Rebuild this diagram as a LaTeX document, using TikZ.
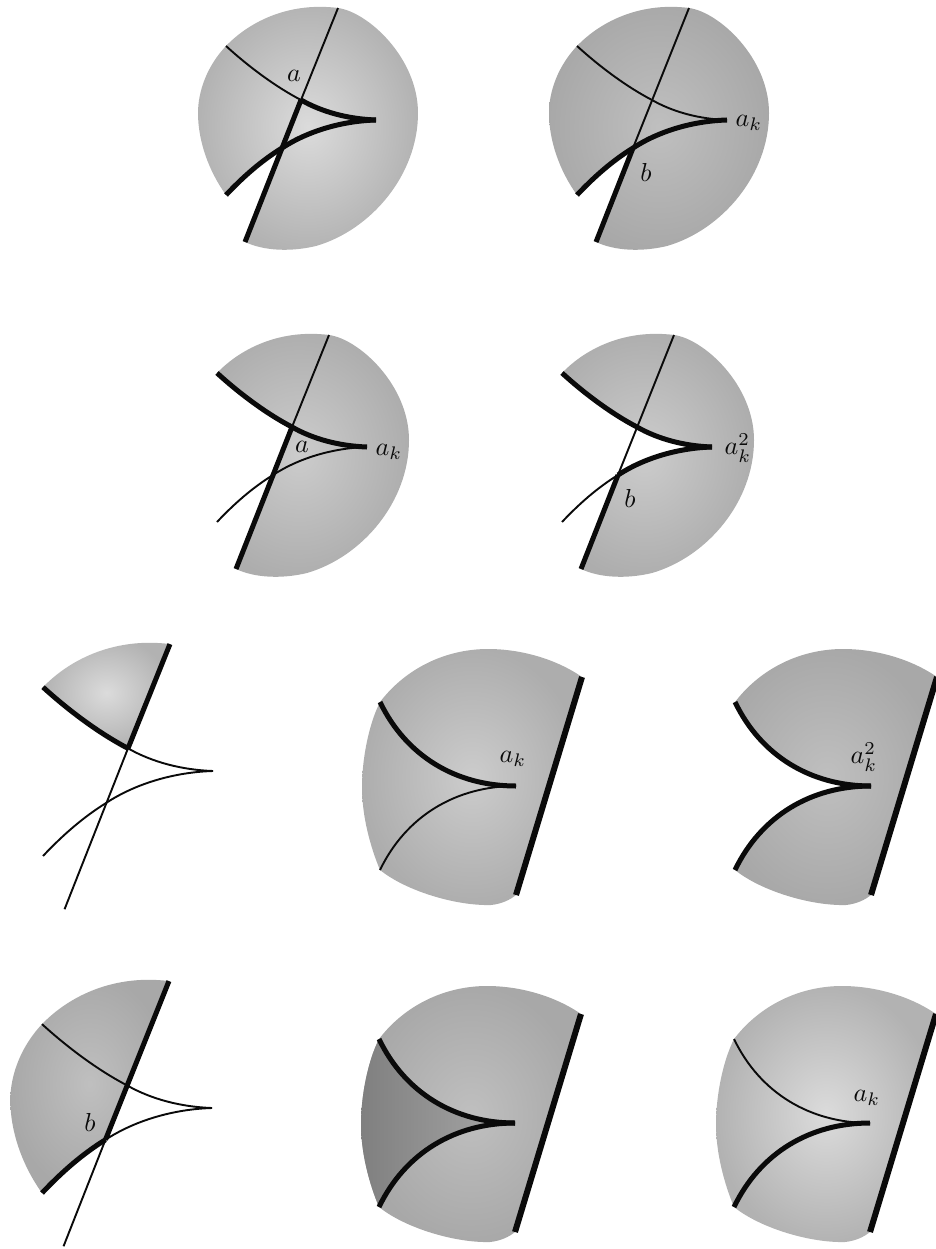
\documentclass[tikz,border=0pt]{standalone}
\definecolor{ink}{RGB}{10,10,10}

% --- Round panels: boundary and cusp pieces, drawn relative to the tip ---
\newcommand{\roundpoints}{
    \coordinate (tip) at (0,0);
    \coordinate (linetop) at (-38,-112);
    \coordinate (linebot) at (-131,122);
    \coordinate (crossup) at (-75,-20);
    \coordinate (crosslow) at (-94,28);
    \coordinate (upend) at (-150,-74);
    \coordinate (lowend) at (-150,75);
}
\newcommand{\uptip}{.. controls (-28,-1) and (-54,-8) .. (crossup)}
\newcommand{\upouter}{.. controls (-100,-33) and (-127,-53) .. (upend)}
\newcommand{\lowtip}{.. controls (-34,1) and (-68,11) .. (crosslow)}
\newcommand{\lowouter}{.. controls (-115,41) and (-133,57) .. (lowend)}
\newcommand{\lowback}{.. controls (-68,11) and (-34,1) .. (tip)}
\newcommand{\arcright}{.. controls (-8,-108) and (42,-62) .. (42,-7)
    .. controls (42,55) and (-5,110) .. (-60,126)
    .. controls (-85,132) and (-112,131) .. (linebot)}
\newcommand{\arcleft}{.. controls (-168,50) and (-178,20) .. (-178,-7)
    .. controls (-178,-30) and (-168,-55) .. (upend)}
\newcommand{\arctop}{.. controls (-125,-100) and (-85,-118) .. (linetop)}
\newcommand{\rounddisc}{(linetop) \arcright -- (lowend) \arcleft \arctop -- cycle}

% --- Wide panels ---
\newcommand{\widepoints}{
    \coordinate (tip) at (0,0);
    \coordinate (linetop) at (66,-109);
    \coordinate (linebot) at (0,109);
    \coordinate (upend) at (-136,-84);
    \coordinate (lowend) at (-136,84);
}
\newcommand{\upcurve}{.. controls (-60,0) and (-110,-30) .. (upend)}
\newcommand{\lowcurve}{.. controls (-60,0) and (-110,30) .. (lowend)}
\newcommand{\lowcurveback}{.. controls (-110,30) and (-60,0) .. (tip)}
\newcommand{\wideleft}{.. controls (-148,-60) and (-154,-25) .. (-154,1)
    .. controls (-154,30) and (-146,60) .. (lowend)}
\newcommand{\widedisc}{(linetop) .. controls (40,-127) and (5,-137) .. (-28,-137)
    .. controls (-70,-137) and (-110,-118) .. (upend) \wideleft
    .. controls (-110,105) and (-60,120) .. (-25,119)
    .. controls (-15,118) and (-6,114) .. (linebot) -- cycle}

\tikzset{
    thinarc/.style={draw=ink, line width=1.9pt},
    thickarc/.style={draw=ink, line width=5pt},
    edgeline/.style={draw=ink, line width=6pt},
    lightzone/.style={inner color=black!14, outer color=black!30},
    midzone/.style={inner color=black!20, outer color=black!32},
    darkzone/.style={inner color=black!25, outer color=black!34},
    gaplabel/.style={scale=2.6, text=ink, inner sep=0pt}
}

\begin{document}
\begin{tikzpicture}[x=1pt, y=-1pt]
\useasboundingbox (0,0) rectangle (935,1249);

% --- Row 1 ---
\begin{scope}[shift={(376,120)}]
    \roundpoints
    \shade[lightzone] \rounddisc;
    \fill[white] (crosslow) \lowouter -- (-190,130) -- (linebot) -- cycle;
    \draw[thinarc] (linetop) -- (crossup);
    \draw[thickarc] (crossup) -- (linebot);
    \draw[thinarc] (upend) .. controls (-127,-53) and (-100,-33) .. (crossup);
    \draw[thickarc] (tip) \uptip;
    \draw[thickarc] (tip) \lowtip \lowouter;
\end{scope}
\node[gaplabel] (a1) at (294,76) {$a$};

\begin{scope}[shift={(727,120)}]
    \roundpoints
    \shade[darkzone] \rounddisc;
    \fill[white] (crosslow) \lowouter -- (-190,130) -- (linebot) -- cycle;
    \draw[thinarc] (linetop) -- (crosslow);
    \draw[thickarc] (crosslow) -- (linebot);
    \draw[thinarc] (tip) \uptip \upouter;
    \draw[thickarc] (tip) \lowtip \lowouter;
\end{scope}
\node[gaplabel] (ak1) at (749,123) {$a_k$};
\node[gaplabel] (b1) at (646,172) {$b$};

% --- Row 2 ---
\begin{scope}[shift={(367,447)}]
    \roundpoints
    \shade[midzone] \rounddisc;
    \fill[white] (crossup) \upouter -- (-190,-60) -- (-190,130) -- (linebot) -- cycle;
    \draw[thinarc] (linetop) -- (crossup);
    \draw[thickarc] (crossup) -- (linebot);
    \draw[thickarc] (tip) \uptip \upouter;
    \draw[thinarc] (tip) \lowtip \lowouter;
\end{scope}
\node[gaplabel] (a2) at (302,447) {$a$};
\node[gaplabel] (ak2) at (389,452) {$a_k$};

\begin{scope}[shift={(712,447)}]
    \roundpoints
    \shade[midzone] \rounddisc;
    \fill[white] (tip) \uptip \upouter -- (-190,-60) -- (-190,130) -- (linebot)
        -- (crosslow) \lowback -- cycle;
    \draw[thinarc] (linetop) -- (crosslow);
    \draw[thickarc] (crosslow) -- (linebot);
    \draw[thickarc] (tip) \uptip \upouter;
    \draw[thickarc] (tip) \lowtip;
    \draw[thinarc] (crosslow) \lowouter;
\end{scope}
\node[gaplabel] (b2) at (630,498) {$b$};
\node[gaplabel] (aks2) at (738,448) {$a_k^2$};

% --- Row 3 ---
\begin{scope}[shift={(213,771)}, scale=1.133]
    \roundpoints
    \shade[lightzone] (linetop) -- (crossup) \upouter \arctop -- cycle;
    \draw[thickarc] (linetop) -- (crossup);
    \draw[thinarc] (crossup) -- (linebot);
    \draw[thickarc] (crossup) \upouter;
    \draw[thinarc] (tip) \uptip;
    \draw[thinarc] (tip) \lowtip \lowouter;
\end{scope}

\begin{scope}[shift={(516,786)}]
    \widepoints
    \shade[midzone] \widedisc;
    \draw[edgeline] (linetop) -- (linebot);
    \draw[thickarc] (tip) \upcurve;
    \draw[thinarc] (tip) \lowcurve;
\end{scope}
\node[gaplabel] (ak3) at (513,759) {$a_k$};

\begin{scope}[shift={(871,786)}]
    \widepoints
    \shade[darkzone] \widedisc;
    \fill[white] (tip) \upcurve -- (-175,-84) -- (-175,84) -- (lowend) \lowcurveback -- cycle;
    \draw[edgeline] (linetop) -- (linebot);
    \draw[thickarc] (tip) \upcurve;
    \draw[thickarc] (tip) \lowcurve;
\end{scope}
\node[gaplabel] (aks3) at (864,757) {$a_k^2$};

% --- Row 4 ---
\begin{scope}[shift={(212,1108)}, scale=1.133]
    \roundpoints
    \shade[darkzone] (linetop) -- (crosslow) \lowouter \arcleft \arctop -- cycle;
    \draw[thickarc] (linetop) -- (crosslow);
    \draw[thinarc] (crosslow) -- (linebot);
    \draw[thinarc] (tip) \uptip \upouter;
    \draw[thinarc] (tip) \lowtip;
    \draw[thickarc] (crosslow) \lowouter;
\end{scope}
\node[gaplabel] (b4) at (90,1122) {$b$};

\begin{scope}[shift={(515,1123)}]
    \widepoints
    \shade[darkzone] \widedisc;
    \shade[left color=black!50, right color=black!34] (tip) \upcurve \wideleft \lowcurveback -- cycle;
    \draw[edgeline] (linetop) -- (linebot);
    \draw[thickarc] (tip) \upcurve;
    \draw[thickarc] (tip) \lowcurve;
\end{scope}

\begin{scope}[shift={(870,1123)}]
    \widepoints
    \shade[lightzone] \widedisc;
    \draw[edgeline] (linetop) -- (linebot);
    \draw[thinarc] (tip) \upcurve;
    \draw[thickarc] (tip) \lowcurve;
\end{scope}
\node[gaplabel] (ak4) at (867,1098) {$a_k$};

\end{tikzpicture}
\end{document}
